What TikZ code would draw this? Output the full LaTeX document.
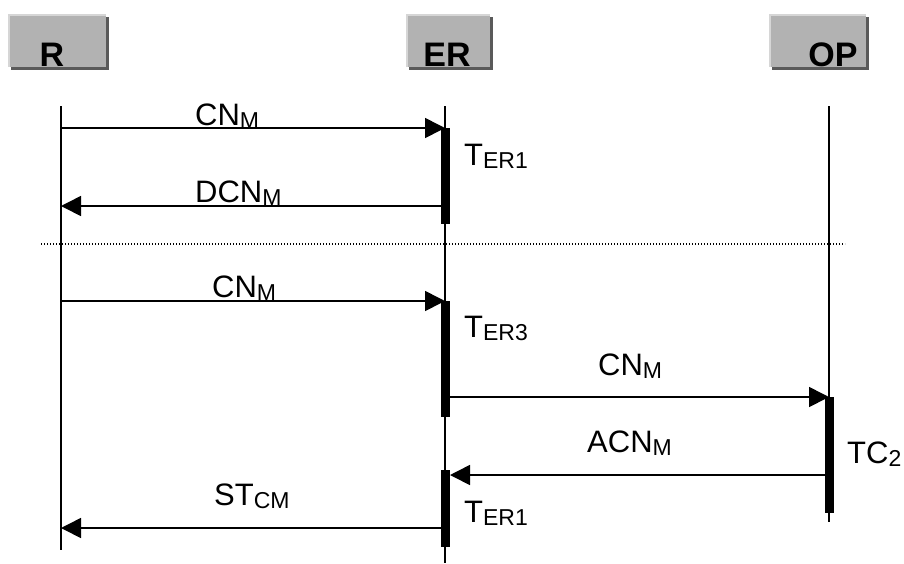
\documentclass[tikz,border=0pt]{standalone}
\usepackage{fontspec}
\setmainfont{Liberation Sans}
\usetikzlibrary{arrows.meta}
\definecolor{boxgray}{HTML}{B2B2B2}
\definecolor{boxlight}{HTML}{D6D6D6}
\definecolor{boxdark}{HTML}{5A5A5A}
\newcommand{\msub}[1]{\raisebox{-3pt}{\fontsize{23}{23}\selectfont #1}}
\tikzset{
	lifeline/.style={line width=1.6pt},
	msg/.style={line width=1.6pt, -{Triangle[length=20pt,width=20pt]}},
	actbar/.style={fill=black},
	sep/.style={line width=1.4pt, dash pattern=on 1.4pt off 1.6pt},
	lbl/.style={anchor=base west, inner sep=0pt, font=\fontsize{31}{31}\selectfont},
	head/.style={anchor=base, inner sep=0pt, font=\fontsize{34}{34}\selectfont\bfseries},
}
\begin{document}
\begin{tikzpicture}[x=1pt,y=-1pt]
	\useasboundingbox (0,0) rectangle (904,563);
	% header boxes
	\foreach \xa/\xb/\xt/\name in {8/106/52/R, 406/490/447/ER, 769/866/833/OP} {
		\fill[boxdark] (\xa+3,17) rectangle (\xb+3,70);
		\fill[boxlight] (\xa,14) rectangle (\xb,67);
		\fill[boxgray] (\xa+2,16) rectangle (\xb,67);
		\node[head] (h\name) at (\xt,66) {\name};
	}
	% lifelines
	\coordinate (Rtop) at (61,106);
	\coordinate (Rbot) at (61,550);
	\coordinate (ERtop) at (445,106);
	\coordinate (ERbot) at (445,563);
	\coordinate (OPtop) at (829,106);
	\coordinate (OPbot) at (829,522);
	\draw[lifeline] (Rtop) -- (Rbot);
	\draw[lifeline] (ERtop) -- (ERbot);
	\draw[lifeline] (OPtop) -- (OPbot);
	% activation bars
	\fill[actbar] (441,128) rectangle (450,224);
	\fill[actbar] (441,301) rectangle (450,417);
	\fill[actbar] (825,397) rectangle (834,513);
	\fill[actbar] (441,470) rectangle (450,547);
	% separator
	\coordinate (sepL) at (41,244);
	\coordinate (sepR) at (845,244);
	\draw[sep] (sepL) -- (sepR);
	% messages
	\coordinate (m1a) at (61,128);  \coordinate (m1b) at (445,128);
	\coordinate (m2a) at (441,206); \coordinate (m2b) at (61,206);
	\coordinate (m3a) at (61,301);  \coordinate (m3b) at (445,301);
	\coordinate (m4a) at (450,397); \coordinate (m4b) at (829,397);
	\coordinate (m5a) at (825,475); \coordinate (m5b) at (450,475);
	\coordinate (m6a) at (441,528); \coordinate (m6b) at (61,528);
	\draw[msg] (m1a) -- (m1b);
	\draw[msg] (m2a) -- (m2b);
	\draw[msg] (m3a) -- (m3b);
	\draw[msg] (m4a) -- (m4b);
	\draw[msg] (m5a) -- (m5b);
	\draw[msg] (m6a) -- (m6b);
	% labels
	\node[lbl] (l1) at (195,125) {CN\msub{M}};
	\node[lbl] (l2) at (195,202) {DCN\msub{M}};
	\node[lbl] (l3) at (212,297) {CN\msub{M}};
	\node[lbl] (l4) at (598,375) {CN\msub{M}};
	\node[lbl] (l5) at (587,452) {ACN\msub{M}};
	\node[lbl] (l6) at (214,505) {ST\msub{CM}};
	\node[lbl] (t1) at (464,165) {T\msub{ER1}};
	\node[lbl] (t2) at (464,337) {T\msub{ER3}};
	\node[lbl] (t3) at (847,463) {TC\msub{2}};
	\node[lbl] (t4) at (464,522) {T\msub{ER1}};
\end{tikzpicture}
\end{document}
